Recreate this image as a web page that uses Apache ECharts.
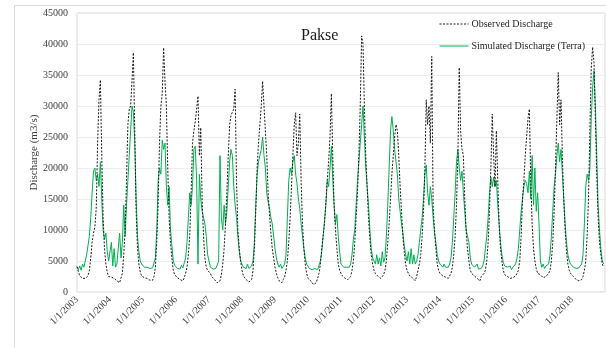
<!DOCTYPE html>
<html>
<head>
<meta charset="utf-8">
<script src="https://cdn.jsdelivr.net/npm/echarts@6/dist/echarts.min.js"></script>
<style>
  html, body { margin: 0; padding: 0; background: #ffffff; }
  #chart { width: 606px; height: 348px; }
</style>
</head>
<body>
<div id="chart"></div>
<script>
// Pakse discharge, half-monthly samples (24 per year) starting 1/1/2003
const startYear = 2003;
const samplesPerYear = 24;
const lastYear = 2019;

const observed = [
  // 2003
  4100, 3300, 2600, 2300, 2200, 2200, 2200, 2300, 2600, 3500, 5500, 8000, 9500, 10500, 13500, 24000, 31000, 34200, 22000, 12000, 7000, 4500, 3200, 2500,
  // 2004
  2500, 2400, 2300, 2200, 2100, 1800, 1500, 1500, 1800, 3000, 6000, 10000, 18000, 27000, 29500, 30000, 34000, 38600, 26000, 13000, 7000, 4500, 3200, 2600,
  // 2005
  2500, 2300, 2200, 2200, 2100, 1900, 1800, 1900, 2500, 4000, 8000, 14000, 24000, 30000, 32000, 39400, 34000, 30000, 20000, 12000, 8000, 5500, 3500, 2800,
  // 2006
  2500, 2300, 2100, 2000, 1900, 1800, 2300, 3000, 4000, 6000, 9000, 16000, 24000, 26000, 27500, 29500, 31600, 22000, 26500, 15000, 9000, 5500, 4000, 3500,
  // 2007
  3500, 3000, 2500, 2200, 2000, 1800, 1500, 1400, 1800, 2800, 4500, 7000, 11000, 16000, 22000, 27000, 28500, 29000, 29500, 32700, 18000, 10000, 7000, 5000,
  // 2008
  3500, 2600, 2300, 2000, 1800, 1600, 1600, 2000, 3500, 7000, 13000, 20000, 24000, 27000, 30000, 34000, 30000, 30300, 22000, 16000, 12500, 9500, 7000, 5500,
  // 2009
  4000, 3000, 2300, 1800, 1600, 1500, 2000, 2500, 3500, 5000, 8000, 12000, 17000, 22000, 27000, 28900, 22000, 24000, 28700, 18000, 11000, 7000, 4500, 3000,
  // 2010
  2200, 2000, 1800, 1500, 1200, 1100, 1500, 2200, 3000, 4500, 7000, 9000, 11000, 14500, 18000, 21000, 25000, 32000, 22000, 14000, 10000, 7000, 4500, 3500,
  // 2011
  3000, 2600, 2400, 2200, 2000, 2000, 2200, 2500, 3500, 5000, 8000, 12000, 16000, 22000, 30000, 41300, 40000, 30000, 22000, 17000, 12000, 8500, 6000, 4500,
  // 2012
  3500, 3000, 2700, 2500, 2300, 2200, 2500, 2800, 3500, 5000, 8000, 11000, 15000, 19000, 22000, 25000, 27000, 26000, 22000, 17000, 13000, 9000, 6500, 4500,
  // 2013
  3500, 3000, 2600, 2500, 2300, 2000, 1800, 2500, 3500, 4500, 6000, 9000, 13000, 20000, 31000, 27000, 30000, 24000, 38000, 14000, 10000, 7000, 4500, 3500,
  // 2014
  3000, 2800, 2600, 2500, 2400, 2300, 2200, 2400, 3000, 4000, 6000, 9000, 14000, 22000, 36200, 26000, 23000, 22000, 15000, 10000, 7000, 5000, 3500, 3000,
  // 2015
  3000, 2600, 2400, 2200, 2000, 1800, 2500, 2800, 3000, 3500, 5000, 8000, 13000, 20000, 28700, 22000, 17000, 26000, 18000, 11000, 7000, 5000, 3500, 2800,
  // 2016
  2800, 2500, 2600, 2200, 2000, 2300, 2000, 2600, 3000, 3500, 5000, 9000, 15000, 18000, 22000, 25000, 28000, 29500, 18000, 11000, 7000, 5000, 3800, 3000,
  // 2017
  3000, 2800, 2500, 2300, 2200, 2500, 2300, 3000, 3500, 5000, 8000, 13000, 20000, 28000, 35400, 27000, 31000, 22000, 15000, 10000, 6500, 4500, 3500, 3000,
  // 2018
  3000, 2500, 2200, 2000, 2000, 1800, 1500, 2000, 2500, 3500, 5000, 9000, 15000, 26000, 36000, 39500, 37000, 28000, 19000, 12000, 8000, 6000, 4500, 4000
];

const simulated = [
  // 2003
  4000, 3600, 4200, 3500, 4500, 4000, 5000, 6000, 7500, 9000, 12000, 16000, 19500, 20000, 18000, 19000, 17000, 21000, 15000, 10000, 8500, 9500, 6500, 5000,
  // 2004
  5000, 8000, 4200, 7000, 4000, 4500, 4500, 9500, 5500, 8000, 14000, 9000, 14000, 18000, 22000, 26000, 30000, 29000, 24000, 15000, 9000, 6500, 5000, 4500,
  // 2005
  4500, 4000, 3800, 4000, 3700, 3800, 3700, 3900, 4200, 5500, 10000, 18000, 20000, 19000, 24500, 23000, 24000, 17000, 14000, 17000, 10000, 7500, 5000, 4300,
  // 2006
  4200, 3800, 4000, 3700, 4300, 3900, 4000, 5500, 8000, 12000, 16000, 14000, 17000, 23000, 23500, 18000, 4500, 19000, 15000, 13000, 12000, 11000, 9000, 6000,
  // 2007
  5000, 4000, 3800, 3700, 3600, 3800, 4000, 5000, 22000, 12000, 10000, 14000, 11000, 13000, 17000, 21000, 23000, 22000, 17000, 14000, 12000, 9000, 6500, 5000,
  // 2008
  4500, 4000, 4200, 3800, 4500, 3800, 4000, 4200, 5000, 8000, 14000, 19000, 21000, 22000, 23000, 25000, 22000, 20000, 16000, 14500, 13500, 12000, 11000, 9000,
  // 2009
  7000, 5500, 4500, 4000, 4500, 3800, 4000, 4500, 6000, 12000, 18000, 20000, 19000, 21000, 22000, 19000, 17500, 15000, 13500, 11000, 9000, 7000, 5500, 4500,
  // 2010
  4500, 3800, 3700, 3600, 3700, 3800, 3700, 3600, 3800, 5000, 6500, 9000, 11500, 14000, 18000, 17000, 20000, 23500, 18000, 14000, 11000, 12500, 9000, 6500,
  // 2011
  4500, 4200, 4000, 3900, 4000, 3800, 4000, 4500, 6000, 8500, 10000, 14000, 18000, 21000, 24000, 27000, 30000, 25000, 20000, 17000, 14000, 10000, 7000, 5500,
  // 2012
  5000, 4500, 6000, 4500, 5500, 4200, 6500, 4800, 5500, 9000, 14000, 20000, 26000, 28300, 26000, 23000, 21000, 19000, 15000, 13000, 11000, 9500, 7500, 6000,
  // 2013
  5000, 6500, 4500, 7000, 4500, 6000, 4500, 5000, 6000, 8000, 10000, 12000, 15000, 19000, 20500, 16000, 14000, 17000, 15000, 12000, 9500, 8000, 6000, 5000,
  // 2014
  4500, 4200, 4000, 4500, 4000, 4300, 4000, 4500, 5500, 8000, 12000, 16000, 21000, 23000, 20000, 18000, 19500, 16000, 13000, 10000, 9000, 8000, 5500, 4500,
  // 2015
  4200, 4000, 3800, 4500, 3700, 4000, 3800, 4200, 5000, 7000, 9000, 12000, 16000, 18500, 17000, 18500, 17000, 18000, 14000, 11000, 8000, 6000, 4800, 4200,
  // 2016
  4500, 4000, 3800, 4200, 3600, 4000, 3800, 4500, 5500, 7000, 10000, 13000, 15000, 17000, 18000, 17500, 16000, 19500, 15000, 22000, 14000, 20000, 13000, 16000,
  // 2017
  11000, 5000, 4000, 4500, 3800, 4200, 4000, 4500, 6000, 9000, 13000, 17000, 19000, 22000, 24000, 21000, 23000, 19000, 15000, 11000, 8000, 6000, 5000, 4500,
  // 2018
  4500, 4000, 4200, 3800, 4000, 3900, 4200, 4500, 6000, 11000, 17000, 19000, 18000, 20000, 28000, 33000, 35700, 30000, 22000, 14000, 10000, 7000, 5000, 4500
];

const yMax = 45000;
const yStep = 5000;

const toPoints = (values) =>
  values.map((v, i) => [startYear + i / samplesPerYear, v]);

const serif = 'Liberation Serif';
const chart = echarts.init(document.getElementById('chart'), null, { renderer: 'canvas' });

chart.setOption({
  animation: false,
  backgroundColor: '#ffffff',
  graphic: [{
    type: 'rect',
    shape: { x: 14.5, y: 5.5, width: 640, height: 380 },
    style: { fill: 'none', stroke: '#d9d9d9', lineWidth: 1 },
    silent: true
  }],
  title: {
    text: 'Pakse',
    left: 296,
    top: 23,
    textStyle: { fontFamily: serif, fontSize: 16, fontWeight: 'normal', color: '#1a1a1a' }
  },
  legend: {
    orient: 'vertical',
    left: 434,
    top: 14,
    itemWidth: 29,
    itemHeight: 10,
    itemGap: 12,
    itemStyle: { opacity: 0 },
    lineStyle: { width: 1 },
    data: ['Observed Discharge', 'Simulated Discharge (Terra)'],
    textStyle: { fontFamily: serif, fontSize: 10, color: '#262626', padding: [0, 0, 0, -2] }
  },
  grid: {
    left: 77, right: 1, top: 13, bottom: 56,
    show: true, borderColor: '#d9d9d9', borderWidth: 1
  },
  xAxis: {
    type: 'value',
    min: startYear,
    max: lastYear,
    interval: 1,
    axisLine: { show: false },
    axisTick: { show: false },
    splitLine: { show: false },
    axisLabel: {
      rotate: 45,
      margin: 6,
      showMaxLabel: false,
      fontFamily: serif,
      fontSize: 10,
      color: '#404040',
      formatter: (v) => (v < lastYear ? '1/1/' + v : '')
    }
  },
  yAxis: {
    type: 'value',
    min: 0,
    max: yMax,
    interval: yStep,
    name: 'Discharge (m3/s)',
    nameLocation: 'middle',
    nameGap: 37,
    nameMoveOverlap: false,
    nameTextStyle: { fontFamily: serif, fontSize: 11, color: '#404040' },
    axisLine: { show: false },
    axisTick: { show: false },
    splitLine: { lineStyle: { color: '#ececec', width: 1 } },
    axisLabel: {
      margin: 9,
      fontFamily: serif,
      fontSize: 10,
      color: '#404040',
      formatter: (v) => String(v)
    }
  },
  series: [
    {
      name: 'Simulated Discharge (Terra)',
      type: 'line',
      data: toPoints(simulated),
      symbol: 'none',
      color: '#00b050',
      lineStyle: { color: '#00b050', width: 1 },
      z: 2
    },
    {
      name: 'Observed Discharge',
      type: 'line',
      data: toPoints(observed),
      symbol: 'none',
      color: '#000000',
      lineStyle: { color: '#1a1a1a', width: 1, type: [2, 1.5] },
      z: 3
    }
  ]
});
</script>
</body>
</html>
